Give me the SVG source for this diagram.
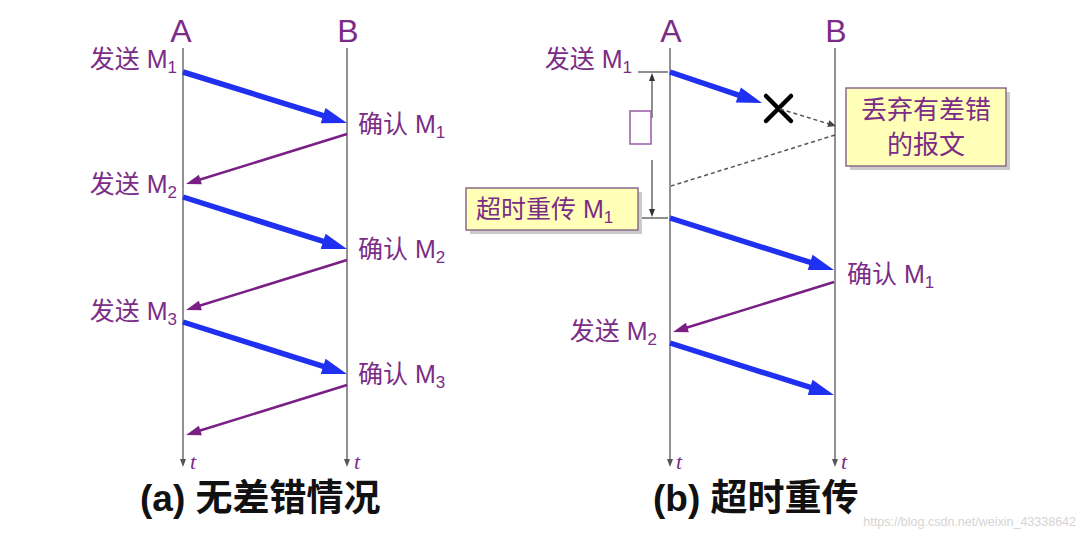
<svg xmlns="http://www.w3.org/2000/svg" width="1082" height="536" viewBox="0 0 1082 536">
<style>
.lbl{font-family:"Liberation Sans","Noto Sans CJK SC",sans-serif;font-size:25px;fill:#7b2c86}
.note{font-family:"Liberation Sans","Noto Sans CJK SC",sans-serif;font-size:26px;fill:#7b2c86;text-anchor:middle}
.ab{font-family:"Liberation Sans","Noto Sans CJK SC",sans-serif;font-size:32px;fill:#7b2c86;text-anchor:middle}
.t{font-family:"Liberation Serif",serif;font-style:italic;font-size:22px;fill:#7b2c86}
.title{font-family:"Liberation Sans","Noto Sans CJK SC",sans-serif;font-weight:bold;font-size:37px;fill:#111}
.tl{stroke:#777;stroke-width:1.6;fill:none}
.blue{stroke:#2030f0;stroke-width:5.5;fill:none}
.purp{stroke:#7a1f86;stroke-width:2.5;fill:none}
.dash{stroke:#555;stroke-width:1.5;stroke-dasharray:4,3;fill:none}
.thin{stroke:#444;stroke-width:1.2;fill:none}
.box{fill:#ffffb8;stroke:#8a6a8a;stroke-width:1.5}
.shadow{fill:#ccc}
.wm{font-family:"Liberation Sans",sans-serif;font-size:12.5px;fill:#d4d4d4}
</style>
<defs>
<marker id="bh" markerUnits="userSpaceOnUse" orient="auto" refX="0" refY="0" overflow="visible" markerWidth="30" markerHeight="20"><path d="M-1,-8 L24,0 L-1,8 z" fill="#2030f0"/></marker>
<marker id="ph" markerUnits="userSpaceOnUse" orient="auto" refX="0" refY="0" overflow="visible" markerWidth="20" markerHeight="12"><path d="M-1,-5 L14,0 L-1,5 z" fill="#7a1f86"/></marker>
<marker id="dh" markerUnits="userSpaceOnUse" orient="auto" refX="0" refY="0" overflow="visible" markerWidth="10" markerHeight="8"><path d="M-1,-3.5 L7,0 L-1,3.5 z" fill="#444"/></marker>
</defs>
<rect width="1082" height="536" fill="#fff"/>

<!-- Panel (a) -->
<g id="a-timeline-A">
<text class="ab" x="181" y="42">A</text>
<line class="tl" x1="183" y1="48" x2="183" y2="461"/>
<polygon points="183,467 180,459 186,459" fill="#555"/>
<text class="t" x="190" y="469">t</text>
</g>
<g id="a-timeline-B">
<text class="ab" x="348" y="42">B</text>
<line class="tl" x1="347" y1="48" x2="347" y2="461"/>
<polygon points="347,467 344,459 350,459" fill="#555"/>
<text class="t" x="354" y="469">t</text>
</g>
<g id="a-labels">
<text class="lbl" x="177" y="68" text-anchor="end">发送 M<tspan font-size="17" dy="5">1</tspan></text>
<text class="lbl" x="358" y="133">确认 M<tspan font-size="17" dy="5">1</tspan></text>
<text class="lbl" x="177" y="193" text-anchor="end">发送 M<tspan font-size="17" dy="5">2</tspan></text>
<text class="lbl" x="358" y="258">确认 M<tspan font-size="17" dy="5">2</tspan></text>
<text class="lbl" x="177" y="320" text-anchor="end">发送 M<tspan font-size="17" dy="5">3</tspan></text>
<text class="lbl" x="358" y="383">确认 M<tspan font-size="17" dy="5">3</tspan></text>
</g>
<g id="a-title"><text class="title" x="140" y="511">(a) 无差错情况</text></g>

<!-- Panel (b) -->
<g id="b-timeline-A">
<text class="ab" x="671" y="42">A</text>
<line class="tl" x1="670" y1="48" x2="670" y2="461"/>
<polygon points="670,467 667,459 673,459" fill="#555"/>
<text class="t" x="676" y="469">t</text>
</g>
<g id="b-timeline-B">
<text class="ab" x="836" y="42">B</text>
<line class="tl" x1="835" y1="48" x2="835" y2="461"/>
<polygon points="835,467 832,459 838,459" fill="#555"/>
<text class="t" x="841" y="469">t</text>
</g>
<g id="b-labels">
<text class="lbl" x="632" y="68" text-anchor="end">发送 M<tspan font-size="17" dy="5">1</tspan></text>
<text class="lbl" x="847" y="283">确认 M<tspan font-size="17" dy="5">1</tspan></text>
<text class="lbl" x="657" y="340" text-anchor="end">发送 M<tspan font-size="17" dy="5">2</tspan></text>
</g>
<g id="b-timer">
<line class="thin" x1="638" y1="72" x2="668" y2="72"/>
<line class="thin" x1="638" y1="218" x2="668" y2="218"/>
<line class="thin" x1="652" y1="80" x2="652" y2="118"/>
<polygon points="652,73 649,81 655,81" fill="#333"/>
<rect x="630" y="111" width="21" height="33" fill="#fff" stroke="#9a5aa6" stroke-width="1.5"/>
<line class="thin" x1="652" y1="160" x2="652" y2="210"/>
<polygon points="652,217 649,209 655,209" fill="#333"/>
</g>
<g id="b-lost">
<path d="M766,96 L791,121 M791,96 L766,121" stroke="#000" stroke-width="4.5" stroke-linecap="round"/>
</g>
<g id="b-discard-note">
<rect class="shadow" x="850" y="92" width="160" height="78"/>
<rect class="box" x="846" y="88" width="160" height="78"/>
<text class="note" x="926" y="119">丢弃有差错</text>
<text class="note" x="926" y="154">的报文</text>
</g>
<g id="b-timeout-note">
<rect class="shadow" x="470" y="192" width="172" height="42"/>
<rect class="box" x="466" y="188" width="172" height="42"/>
<text class="lbl" x="476" y="218">超时重传 M<tspan font-size="17" dy="5">1</tspan></text>
</g>
<g id="b-title"><text class="title" x="653" y="511">(b) 超时重传</text></g>

<!-- Connectors -->
<g id="connectors">
<line class="blue" x1="183" y1="72" x2="324.1" y2="115.9" marker-end="url(#bh)"/>
<line class="purp" x1="347" y1="134" x2="199.4" y2="179.8" marker-end="url(#ph)"/>
<line class="blue" x1="183" y1="197" x2="324.1" y2="241.7" marker-end="url(#bh)"/>
<line class="purp" x1="347" y1="260" x2="199.4" y2="305.8" marker-end="url(#ph)"/>
<line class="blue" x1="183" y1="322" x2="324.1" y2="366.7" marker-end="url(#bh)"/>
<line class="purp" x1="347" y1="385" x2="199.4" y2="430.8" marker-end="url(#ph)"/>

<line class="blue" x1="670" y1="72" x2="739.3" y2="95.3" marker-end="url(#bh)"/>
<line class="dash" x1="780" y1="109" x2="829.3" y2="124" marker-end="url(#dh)"/>
<line class="dash" x1="835" y1="135" x2="671" y2="186"/>
<line class="blue" x1="670" y1="218" x2="811.1" y2="262.7" marker-end="url(#bh)"/>
<line class="purp" x1="834" y1="282" x2="686.4" y2="327.8" marker-end="url(#ph)"/>
<line class="blue" x1="670" y1="343" x2="811.1" y2="387.7" marker-end="url(#bh)"/>
</g>
<text class="wm" x="1076" y="526" text-anchor="end">https://blog.csdn.net/weixin_43338642</text>
</svg>
